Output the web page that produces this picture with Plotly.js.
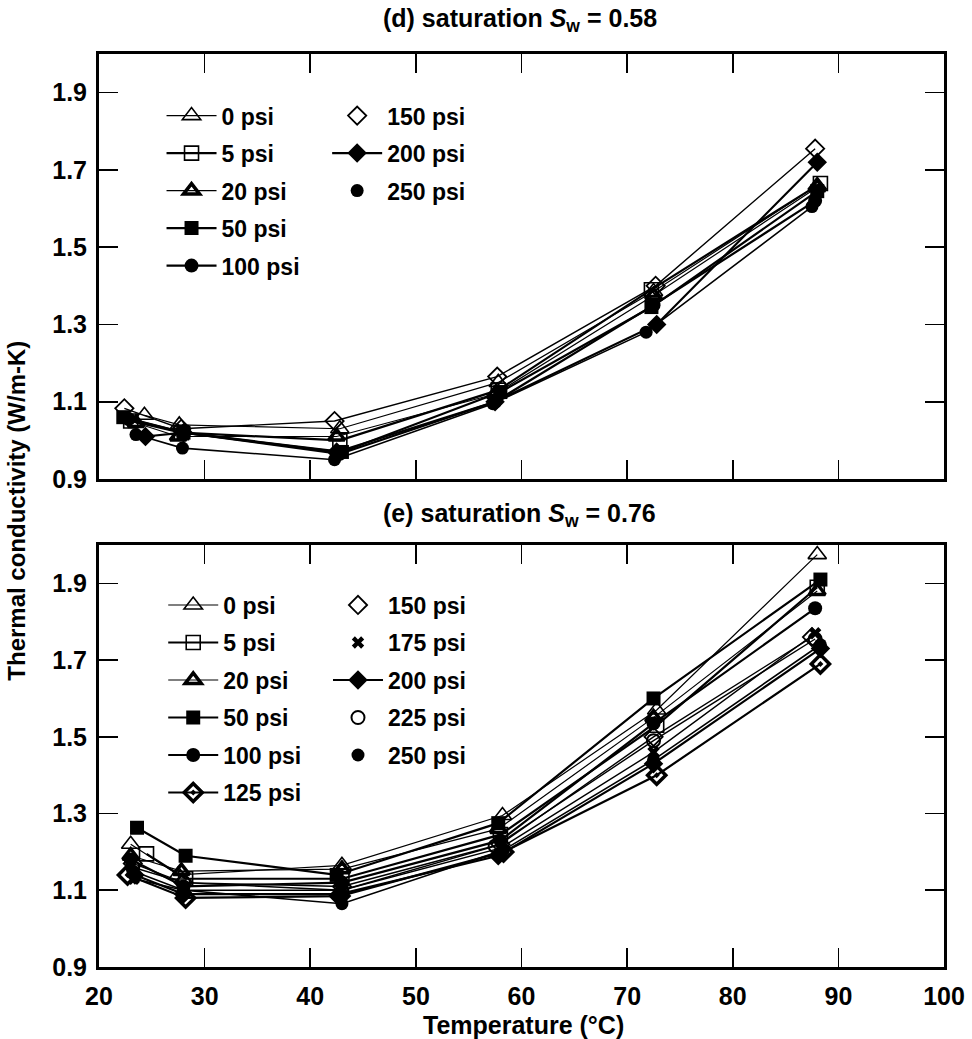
<!DOCTYPE html>
<html>
<head>
<meta charset="utf-8">
<script src="https://cdn.plot.ly/plotly-3.0.1.min.js"></script>
<style>html,body{margin:0;padding:0;background:#fff;}#chart{width:972px;height:1039px;}</style>
</head>
<body>
<div id="chart"></div>
<script>
// ---------- Panel (d): saturation Sw = 0.58 ----------
const dLabels = ["0 psi", "5 psi", "20 psi", "50 psi", "100 psi", "150 psi", "200 psi", "250 psi"];
const d0_T   = [24.3, 27.6, 42.8, 57.8, 72.5, 88.0];
const d0_k   = [1.065, 1.04, 1.03, 1.15, 1.385, 1.66];
const d5_T   = [23.0, 27.8, 42.8, 57.8, 72.3, 88.3];
const d5_k   = [1.05, 1.02, 1.00, 1.13, 1.39, 1.665];
const d20_T  = [23.5, 27.5, 42.5, 57.5, 72.5, 88.0];
const d20_k  = [1.045, 1.01, 1.01, 1.12, 1.375, 1.655];
const d50_T  = [22.3, 28.0, 43.0, 58.0, 72.3, 88.0];
const d50_k  = [1.06, 1.02, 0.97, 1.125, 1.345, 1.645];
const d100_T = [22.8, 28.0, 42.8, 57.5, 72.5, 87.8];
const d100_k = [1.055, 1.02, 0.965, 1.10, 1.35, 1.62];
const d150_T = [22.4, 27.8, 42.3, 57.7, 72.7, 87.8];
const d150_k = [1.083, 1.03, 1.05, 1.165, 1.40, 1.755];
const d200_T = [24.4, 28.0, 42.5, 57.5, 72.8, 88.0];
const d200_k = [1.01, 1.02, 0.97, 1.10, 1.30, 1.72];
const d250_T = [23.5, 27.9, 42.3, 57.3, 71.8, 87.5];
const d250_k = [1.015, 0.98, 0.95, 1.095, 1.28, 1.605];

// ---------- Panel (e): saturation Sw = 0.76 ----------
const eLabels = ["0 psi", "5 psi", "20 psi", "50 psi", "100 psi", "125 psi", "150 psi", "175 psi", "200 psi", "225 psi", "250 psi"];
const e0_T   = [23.0, 27.5, 43.0, 58.2, 72.8, 88.0];
const e0_k   = [1.22, 1.14, 1.165, 1.295, 1.57, 1.975];
const e5_T   = [24.5, 28.2, 43.0, 58.0, 72.8, 88.0];
const e5_k   = [1.195, 1.13, 1.13, 1.245, 1.53, 1.89];
const e20_T  = [23.0, 27.8, 43.0, 57.8, 72.5, 88.0];
const e20_k  = [1.19, 1.15, 1.155, 1.26, 1.55, 1.88];
const e50_T  = [23.6, 28.2, 42.5, 57.8, 72.5, 88.3];
const e50_k  = [1.263, 1.19, 1.14, 1.275, 1.60, 1.91];
const e100_T = [23.0, 28.0, 43.0, 58.0, 72.5, 87.8];
const e100_k = [1.18, 1.11, 1.12, 1.23, 1.535, 1.835];
const e125_T = [22.7, 28.2, 42.8, 58.3, 72.8, 88.3];
const e125_k = [1.14, 1.08, 1.085, 1.20, 1.40, 1.69];
const e150_T = [23.2, 28.0, 43.0, 58.0, 72.5, 87.5];
const e150_k = [1.17, 1.12, 1.11, 1.22, 1.50, 1.76];
const e175_T = [23.3, 28.0, 43.0, 58.0, 72.5, 87.8];
const e175_k = [1.13, 1.10, 1.10, 1.21, 1.46, 1.77];
const e200_T = [23.4, 28.0, 42.8, 57.8, 72.5, 88.3];
const e200_k = [1.14, 1.09, 1.09, 1.19, 1.43, 1.73];
const e225_T = [23.2, 28.0, 43.0, 57.5, 72.5, 87.8];
const e225_k = [1.16, 1.12, 1.10, 1.215, 1.49, 1.755];
const e250_T = [23.2, 28.0, 43.0, 58.3, 72.5, 88.3];
const e250_k = [1.15, 1.10, 1.065, 1.205, 1.44, 1.74];

const xTicks = [20, 30, 40, 50, 60, 70, 80, 90, 100];
const yTicks = [0.9, 1.1, 1.3, 1.5, 1.7, 1.9];

// ---------- styles ----------
const FONT = "Liberation Sans, Arial, sans-serif";
const style = {
  "0 psi":   {symbol: "triangle-up-open", size: 16, lw: 1.2, mlw: 1.6, legLine: true},
  "5 psi":   {symbol: "square-open", size: 14, lw: 2.2, mlw: 1.6, legLine: true},
  "20 psi":  {symbol: "triangle-up-open", size: 14, lw: 1.2, mlw: 3.5, legLine: true},
  "50 psi":  {symbol: "square", size: 14, lw: 2.2, mlw: 0, legLine: true},
  "100 psi": {symbol: "circle", size: 14, lw: 2.2, mlw: 0, legLine: true},
  "125 psi": {symbol: "diamond-open-dot", size: 14, lw: 2.2, mlw: 3.5, legLine: true},
  "150 psi": {symbol: "diamond-open", size: 14, lw: 1.4, mlw: 1.8, legLine: false},
  "175 psi": {symbol: "x", size: 11, lw: 1.4, mlw: 0, legLine: false},
  "200 psi": {symbol: "diamond", size: 15, lw: 2.2, mlw: 0, legLine: true},
  "225 psi": {symbol: "circle-open", size: 13, lw: 1.4, mlw: 2, legLine: false},
  "250 psi": {symbol: "circle", size: 13, lw: 1.6, mlw: 0, legLine: false}
};

const dSeries = [[d0_T,d0_k],[d5_T,d5_k],[d20_T,d20_k],[d50_T,d50_k],[d100_T,d100_k],[d150_T,d150_k],[d200_T,d200_k],[d250_T,d250_k]];
const eSeries = [[e0_T,e0_k],[e5_T,e5_k],[e20_T,e20_k],[e50_T,e50_k],[e100_T,e100_k],[e125_T,e125_k],[e150_T,e150_k],[e175_T,e175_k],[e200_T,e200_k],[e225_T,e225_k],[e250_T,e250_k]];

const traces = [];
function addPanel(labels, series, xa, ya, legCol1, legCol2, col1Count, prefix) {
  labels.forEach((lab, i) => {
    const s = style[lab];
    const leg = i < col1Count ? legCol1 : legCol2;
    const mk = {symbol: s.symbol, size: s.size, color: "#000", line: {color: "#000", width: s.mlw}};
    traces.push({
      type: "scatter", mode: "lines+markers", name: lab,
      x: series[i][0], y: series[i][1], xaxis: xa, yaxis: ya,
      line: {color: "#000", width: s.lw}, marker: mk,
      showlegend: s.legLine, legend: leg, legendgroup: prefix + lab
    });
    if (!s.legLine) {
      traces.push({
        type: "scatter", mode: "markers", name: lab, x: [null], y: [null],
        xaxis: xa, yaxis: ya, marker: mk, showlegend: true, legend: leg,
        legendgroup: prefix + lab, hoverinfo: "skip"
      });
    }
  });
}
addPanel(dLabels, dSeries, "x2", "y2", "legend", "legend2", 5, "d");
addPanel(eLabels, eSeries, "x", "y", "legend3", "legend4", 6, "e");

const tickFont = {family: FONT, size: 25, color: "#000", weight: "bold"};
const baseAxis = {
  showgrid: false, zeroline: false, showline: true, linecolor: "#000", linewidth: 3,
  mirror: "ticks", ticks: "inside", ticklen: 19, tickwidth: 1.6, tickcolor: "#000",
  tickfont: tickFont
};
const xBase = Object.assign({}, baseAxis, {range: [20, 100], tickvals: xTicks, ticktext: xTicks.map(String), ticklabelstandoff: 5});
const yBase = Object.assign({}, baseAxis, {range: [0.9, 2.0], tickvals: yTicks, ticktext: yTicks.map(v => v.toFixed(1)), ticklabelstandoff: 4});

const legBase = {
  bgcolor: "rgba(0,0,0,0)", borderwidth: 0, orientation: "v",
  font: {family: FONT, size: 23, color: "#000", weight: "bold"},
  tracegroupgap: 4.6, xanchor: "left", yanchor: "top", itemwidth: 50
};

const layout = {
  width: 972, height: 1039,
  margin: {l: 99, r: 28, t: 54, b: 72},
  paper_bgcolor: "#fff", plot_bgcolor: "#fff",
  font: {family: FONT, color: "#000"},
  xaxis: Object.assign({}, xBase, {anchor: "y", domain: [0, 1]}),
  yaxis: Object.assign({}, yBase, {anchor: "x", domain: [0, 0.4622]}),
  xaxis2: Object.assign({}, xBase, {anchor: "y2", domain: [0, 1], showticklabels: false, matches: "x"}),
  yaxis2: Object.assign({}, yBase, {anchor: "x2", domain: [0.5345, 1]}),
  legend:  Object.assign({}, legBase, {x: 0.074, y: 0.956}),
  legend2: Object.assign({}, legBase, {x: 0.270, y: 0.956}),
  legend3: Object.assign({}, legBase, {x: 0.076, y: 0.42}),
  legend4: Object.assign({}, legBase, {x: 0.271, y: 0.42}),
  annotations: [
    {text: "(d) saturation <i>S</i><sub>w</sub> = 0.58", xref: "paper", yref: "paper", x: 0.498, y: 1.037,
     showarrow: false, xanchor: "center", yanchor: "middle", font: {family: FONT, size: 25, color: "#000", weight: "bold"}},
    {text: "(e) saturation <i>S</i><sub>w</sub> = 0.76", xref: "paper", yref: "paper", x: 0.498, y: 0.495,
     showarrow: false, xanchor: "center", yanchor: "middle", font: {family: FONT, size: 25, color: "#000", weight: "bold"}},
    {text: "Thermal conductivity (W/m-K)", xref: "paper", yref: "paper", x: -0.098, y: 0.50, textangle: -90,
     showarrow: false, xanchor: "center", yanchor: "middle", font: {family: FONT, size: 24, color: "#000", weight: "bold"}},
    {text: "Temperature (°C)", xref: "paper", yref: "paper", x: 0.502, y: -0.064,
     showarrow: false, xanchor: "center", yanchor: "middle", font: {family: FONT, size: 25, color: "#000", weight: "bold"}}
  ]
};

Plotly.newPlot("chart", traces, layout, {staticPlot: true, displayModeBar: false});
</script>
</body>
</html>
